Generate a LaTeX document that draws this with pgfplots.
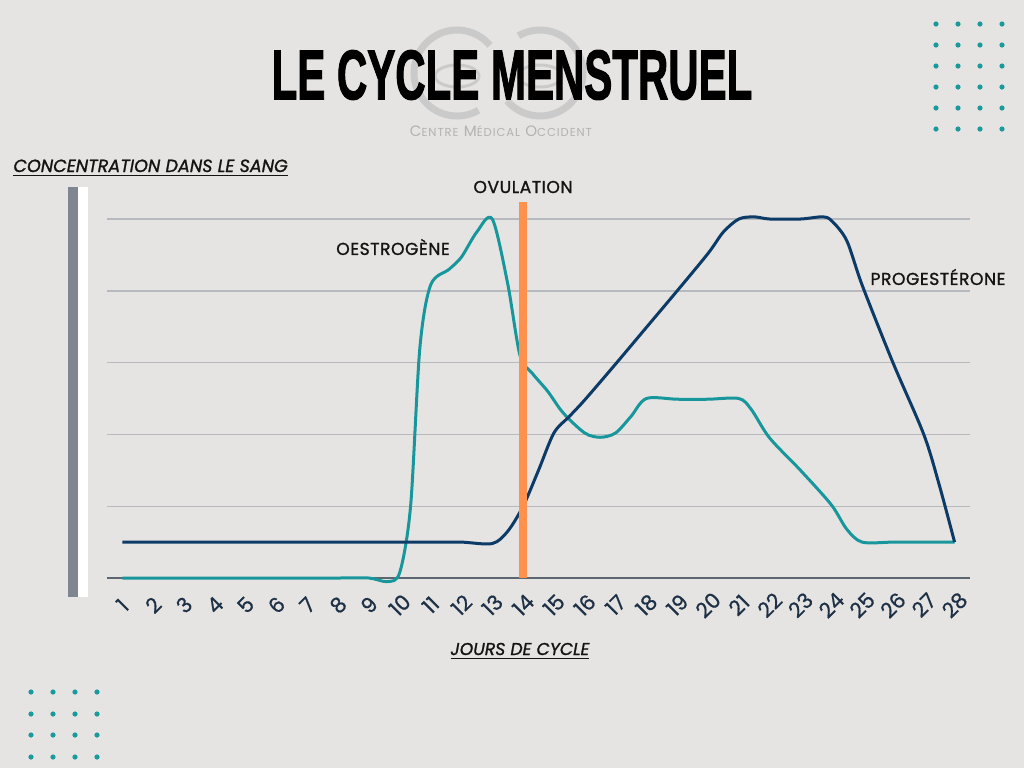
\documentclass[border=0pt]{standalone}
\usepackage{graphicx}
\usepackage{pgfplots}
\pgfplotsset{compat=1.18}
\usepackage{fontspec}
\setmainfont{Poppins}
\newfontfamily\labfont{Poppins}[FakeBold=1.2]
\newfontfamily\tickfont{Poppins}[FakeBold=0.7]
\newfontfamily\titlefont{Liberation Sans}[BoldFeatures={FakeBold=2}]

\definecolor{bgc}{HTML}{E6E4E2}
\definecolor{oestc}{HTML}{17979B}
\definecolor{progc}{HTML}{0C3B67}
\definecolor{ovulc}{HTML}{FF914D}
\definecolor{gridc}{HTML}{B6B9BD}
\definecolor{axisc}{HTML}{5C6670}
\definecolor{tickc}{HTML}{1D3046}
\definecolor{barc}{HTML}{7F8591}
\definecolor{dotc}{HTML}{1A9A9A}
\definecolor{logoc}{HTML}{CACACA}
\definecolor{logot}{HTML}{B2B2B2}
\definecolor{labc}{HTML}{141414}

\begin{document}
\begin{tikzpicture}[x=0.5pt,y=-0.5pt]
\useasboundingbox (0,0) rectangle (1024,768);
\fill[bgc] (0,0) rectangle (1024,768);

% logo behind the title
\draw[logoc, line width=3.5pt] (457,73) ++(-40:43) arc[start angle=-40, end angle=-300, radius=43];
\draw[logoc, line width=3.5pt] (540,73) ++(140:43) arc[start angle=140, end angle=-120, radius=43];
\draw[logoc, line width=1.5pt] (457,76) ellipse[x radius=22, y radius=11];
\draw[logoc, line width=1.5pt] (540,76) ellipse[x radius=22, y radius=11];
\node[logot, inner sep=0] at (501,131) {\resizebox{91pt}{!}{\addfontfeatures{LetterSpace=8}\fontsize{6.5}{6.5}\selectfont
  C{\fontsize{5}{5}\selectfont ENTRE} M{\fontsize{5}{5}\selectfont ÉDICAL} O{\fontsize{5}{5}\selectfont CCIDENT}}};

% title
\node[inner sep=0, text=black, font=\titlefont\bfseries\fontsize{35}{35}\selectfont] at (512,75)
  {\scalebox{0.6}[1]{LE CYCLE MENSTRUEL}};

% dot grids
\foreach \xx in {936,958,980,1002}
  \foreach \yy in {24,45,66,87,108,129}
    \fill[dotc] (\xx,\yy) circle[radius=2.6];
\foreach \xx in {31,53,75,97}
  \foreach \yy in {692,714,735,757}
    \fill[dotc] (\xx,\yy) circle[radius=2.6];

% left bars
\fill[barc] (68,187) rectangle (78,597);
\fill[white] (78,187) rectangle (88,597);

% axis titles
\node[anchor=base west, inner sep=0, text=labc, font=\labfont\itshape\fontsize{8.8}{8.8}\selectfont] at (13,172)
  {\underline{CONCENTRATION DANS LE SANG}};
\node[anchor=base, inner sep=0, text=labc, font=\labfont\itshape\fontsize{8.6}{8.6}\selectfont] at (520,655)
  {\underline{JOURS DE CYCLE}};

\begin{axis}[
  at={(53.5pt,-289pt)}, anchor=south west,
  scale only axis, width=431.5pt, height=179.5pt,
  xmin=0.5, xmax=28.5, ymin=0, ymax=5,
  clip=false,
  axis line style={draw=none},
  tick style={draw=none},
  xtick={1,...,28},
  ytick={1,2,3,4,5}, yticklabels={},
  ymajorgrids, grid style={gridc, line width=0.7pt},
  extra y ticks={0}, extra y tick labels={},
  extra y tick style={ymajorgrids=true, grid style={axisc, line width=0.6pt}},
  /pgf/number format/assume math mode=true,
  xticklabel style={font=\tickfont\fontsize{10.5}{10.5}\selectfont, text=tickc,
    anchor=center, yshift=-13.5pt, rotate=45},
]
\addplot[oestc, line width=1.5pt, smooth] coordinates {
  (1,0)(2,0)(3,0)(4,0)(5,0)(6,0)(7,0)(8,0)(9,0)(9.6,-0.05)(10,0.08)
  (10.35,1.0)(10.65,3.2)(11,4.08)(11.6,4.3)(12,4.47)(12.5,4.82)(13,5.0)
  (13.5,4.1)(13.9,3.1)(14.3,2.85)(14.8,2.6)(15.3,2.3)(16,2.02)(16.5,1.96)
  (17,2.02)(17.5,2.25)(18,2.5)(19,2.49)(20,2.49)(21,2.5)(21.4,2.35)
  (22,1.95)(23,1.5)(24,1.02)(24.5,0.68)(25,0.5)(26,0.5)(27,0.5)(28,0.5)
};
\addplot[progc, line width=1.5pt, smooth] coordinates {
  (1,0.5)(2,0.5)(3,0.5)(4,0.5)(5,0.5)(6,0.5)(7,0.5)(8,0.5)(9,0.5)(10,0.5)
  (11,0.5)(12,0.5)(13,0.48)(13.5,0.65)(14,1.0)(14.5,1.5)(15,2.02)(15.5,2.25)
  (16,2.48)(17,2.98)(18,3.49)(19,4.0)(20,4.52)(20.5,4.82)(21,5.0)(21.5,5.03)
  (22,5.0)(23,5.0)(23.7,5.03)(24,4.98)(24.5,4.7)(25,4.08)(26,3.0)(27,2.0)
  (27.5,1.3)(28,0.5)
};
\addplot[ovulc, line width=4pt] coordinates {(14,0)(14,5.24)};
\end{axis}

% curve labels
\node[inner sep=0, text=labc, font=\labfont\addfontfeatures{LetterSpace=3}\fontsize{8.6}{8.6}\selectfont] at (393,247) {OESTROGÈNE};
\node[inner sep=0, text=labc, font=\labfont\addfontfeatures{LetterSpace=3}\fontsize{8.6}{8.6}\selectfont] at (523,187) {OVULATION};
\node[inner sep=0, text=labc, font=\labfont\addfontfeatures{LetterSpace=3}\fontsize{8.6}{8.6}\selectfont] at (938,277) {PROGESTÉRONE};
\end{tikzpicture}
\end{document}
